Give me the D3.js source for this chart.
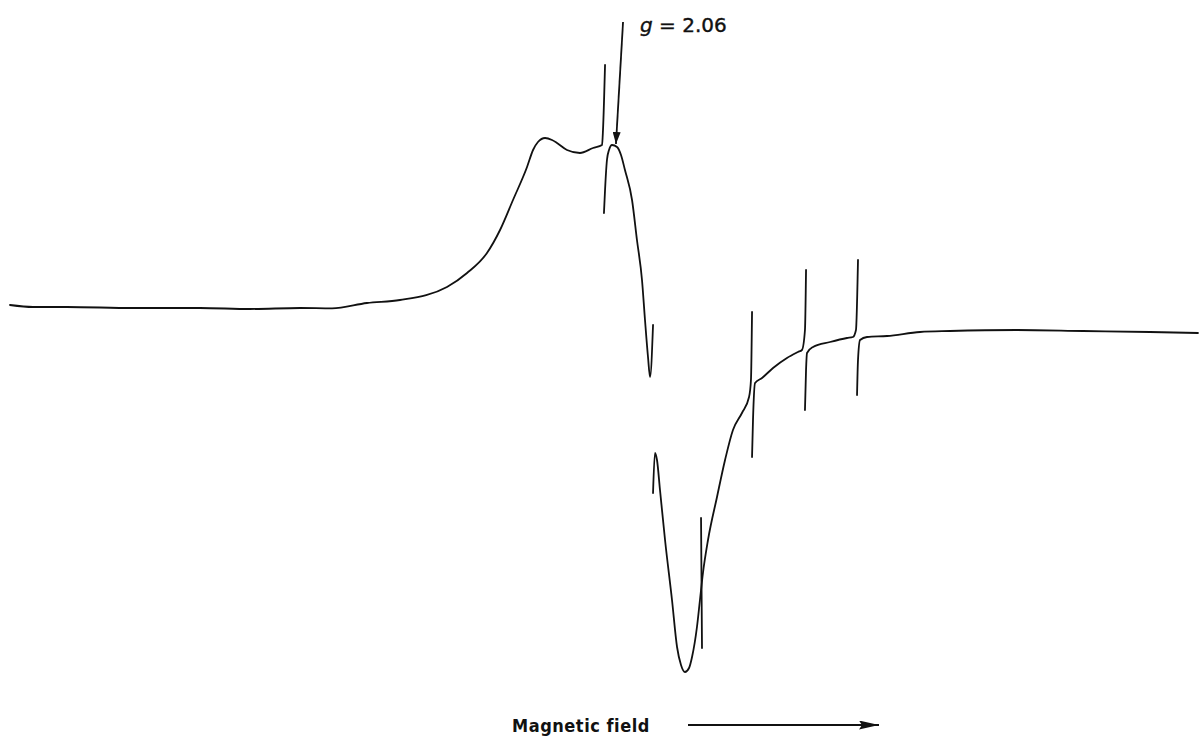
<!DOCTYPE html>
<html>
<head>
<meta charset="utf-8">
<script src="https://cdn.jsdelivr.net/npm/d3@7"></script>
<style>
  html, body { margin: 0; padding: 0; background: #ffffff; }
  svg { display: block; }
  .epr-label { font-family: "DejaVu Sans", sans-serif; fill: #111; }
  .epr-axis-label { font-family: "DejaVu Sans Condensed", "DejaVu Sans", sans-serif; fill: #111; }
</style>
</head>
<body>
<div id="chart"></div>
<script>
// EPR trace, field in arbitrary units (0-100), signal in arbitrary units.
// The pen trace is broken at each field marker, so it is kept as separate runs.
const traceBaselineToMarker1 = [
  [0.83, 3.75], [2.75, 3.25], [5.58, 3.25], [11.08, 3.0], [16.67, 3.0], [20.83, 2.75],
  [25.0, 3.0], [27.67, 2.9], [30.58, 4.25], [33.33, 5.0], [37.25, 8.25], [38.92, 11.75],
  [40.58, 16.75], [41.67, 22.5], [42.75, 30.0], [43.92, 38.25], [44.42, 42.5], [44.83, 44.5],
  [45.42, 45.5], [46.0, 45.0], [46.42, 44.25], [47.25, 42.5], [48.33, 41.75], [49.42, 43.0],
  [50.17, 43.75], [50.25, 47.5], [50.42, 63.75]
];
const traceMarker1ToMarker2 = [
  [50.33, 26.75], [50.42, 32.5], [50.58, 40.0], [50.75, 42.5], [51.0, 43.75], [51.42, 43.25],
  [51.75, 41.25], [52.08, 37.5], [52.67, 30.0], [53.08, 20.0], [53.5, 10.0], [53.75, 0.0],
  [54.0, -9.25], [54.17, -14.25], [54.42, -1.25]
];
const traceMarker2ToMarker4 = [
  [54.42, -43.25], [54.58, -33.25], [54.75, -35.0], [55.0, -42.5], [55.42, -55.0], [56.0, -70.0],
  [56.42, -81.75], [56.75, -86.25], [57.08, -88.0], [57.42, -87.0], [57.67, -84.25], [58.08, -76.75],
  [58.33, -70.0], [58.58, -63.25], [59.0, -55.0], [59.75, -44.25], [60.42, -35.0], [61.08, -27.5],
  [61.83, -23.25], [62.42, -19.25], [62.58, -15.0], [62.67, 2.0]
];
const traceMarker4ToMarker5 = [
  [62.67, -34.25], [62.75, -25.0], [62.92, -15.75], [63.5, -14.5], [64.42, -12.0], [65.58, -9.5],
  [66.5, -8.0], [66.83, -7.5], [67.08, -2.5], [67.17, 12.5]
];
const traceMarker5ToMarker6 = [
  [67.08, -22.5], [67.17, -12.5], [67.25, -8.25], [67.75, -6.75], [69.17, -5.5], [70.58, -4.5],
  [71.08, -4.25], [71.33, -2.5], [71.5, 15.0]
];
const traceMarker6ToEnd = [
  [71.42, -18.75], [71.5, -10.0], [71.67, -5.0], [72.25, -4.25], [73.92, -4.0], [76.67, -3.0],
  [79.17, -2.75], [84.75, -2.5], [90.25, -2.75], [95.83, -3.0], [99.83, -3.25]
];
// marker 3 is drawn across the trace rather than breaking it
const marker3 = [[58.42, -49.5], [58.5, -82.0]];

const traceRuns = [
  traceBaselineToMarker1, traceMarker1ToMarker2, traceMarker2ToMarker4,
  traceMarker4ToMarker5, traceMarker5ToMarker6, traceMarker6ToEnd, marker3
];

const gAnnotation = { label: "2.06", field: 51.33, tipSignal: 44.0, tailField: 51.92, tailSignal: 74.5 };
const fieldLabel = "Magnetic field";

const width = 1200;
const height = 738;

const x = d3.scaleLinear().domain([0, 100]).range([0, 1200]);
const y = d3.scaleLinear().domain([-80, 80]).range([640, 0]);

const svg = d3.select("#chart")
  .append("svg")
  .attr("width", width)
  .attr("height", height)
  .attr("viewBox", `0 0 ${width} ${height}`);

const defs = svg.append("defs");
defs.append("marker")
  .attr("id", "arrow-head")
  .attr("viewBox", "0 0 10 10")
  .attr("refX", 10)
  .attr("refY", 5)
  .attr("markerWidth", 12)
  .attr("markerHeight", 8)
  .attr("markerUnits", "userSpaceOnUse")
  .attr("orient", "auto")
  .attr("preserveAspectRatio", "none")
  .append("path")
  .attr("d", "M0,0 L10,5 L0,10 Z")
  .attr("fill", "#111");

defs.append("marker")
  .attr("id", "field-head")
  .attr("viewBox", "0 0 10 10")
  .attr("refX", 10)
  .attr("refY", 5)
  .attr("markerWidth", 20)
  .attr("markerHeight", 9)
  .attr("markerUnits", "userSpaceOnUse")
  .attr("orient", "auto")
  .attr("preserveAspectRatio", "none")
  .append("path")
  .attr("d", "M0,0 L10,5 L0,10 L1.5,5 Z")
  .attr("fill", "#111");

const line = d3.line()
  .x((d) => x(d[0]))
  .y((d) => y(d[1]))
  .curve(d3.curveMonotoneX);

svg.append("g")
  .selectAll("path")
  .data(traceRuns)
  .join("path")
  .attr("d", line)
  .attr("fill", "none")
  .attr("stroke", "#111")
  .attr("stroke-width", 1.8)
  .attr("stroke-linecap", "round")
  .attr("stroke-linejoin", "round");

// g = 2.06 arrow
svg.append("line")
  .attr("x1", x(gAnnotation.tailField))
  .attr("y1", y(gAnnotation.tailSignal))
  .attr("x2", x(gAnnotation.field))
  .attr("y2", y(gAnnotation.tipSignal))
  .attr("stroke", "#111")
  .attr("stroke-width", 1.8)
  .attr("marker-end", "url(#arrow-head)");

const gText = svg.append("text")
  .attr("class", "epr-label")
  .attr("x", x(gAnnotation.tailField) + 17)
  .attr("y", 32)
  .attr("font-size", 20)
  .attr("stroke", "#111")
  .attr("stroke-width", 0.4);
gText.append("tspan").attr("font-style", "italic").text("g");
gText.append("tspan").text(` = ${gAnnotation.label}`);

// field direction
svg.append("text")
  .attr("class", "epr-axis-label")
  .attr("x", 512)
  .attr("y", 732)
  .attr("font-size", 18)
  .attr("font-weight", 700)
  .attr("letter-spacing", 0.6)
  .attr("textLength", 138)
  .attr("lengthAdjust", "spacing")
  .text(fieldLabel);

svg.append("line")
  .attr("x1", 688)
  .attr("y1", 725)
  .attr("x2", 879)
  .attr("y2", 725)
  .attr("stroke", "#111")
  .attr("stroke-width", 1.8)
  .attr("marker-end", "url(#field-head)");
</script>
</body>
</html>
